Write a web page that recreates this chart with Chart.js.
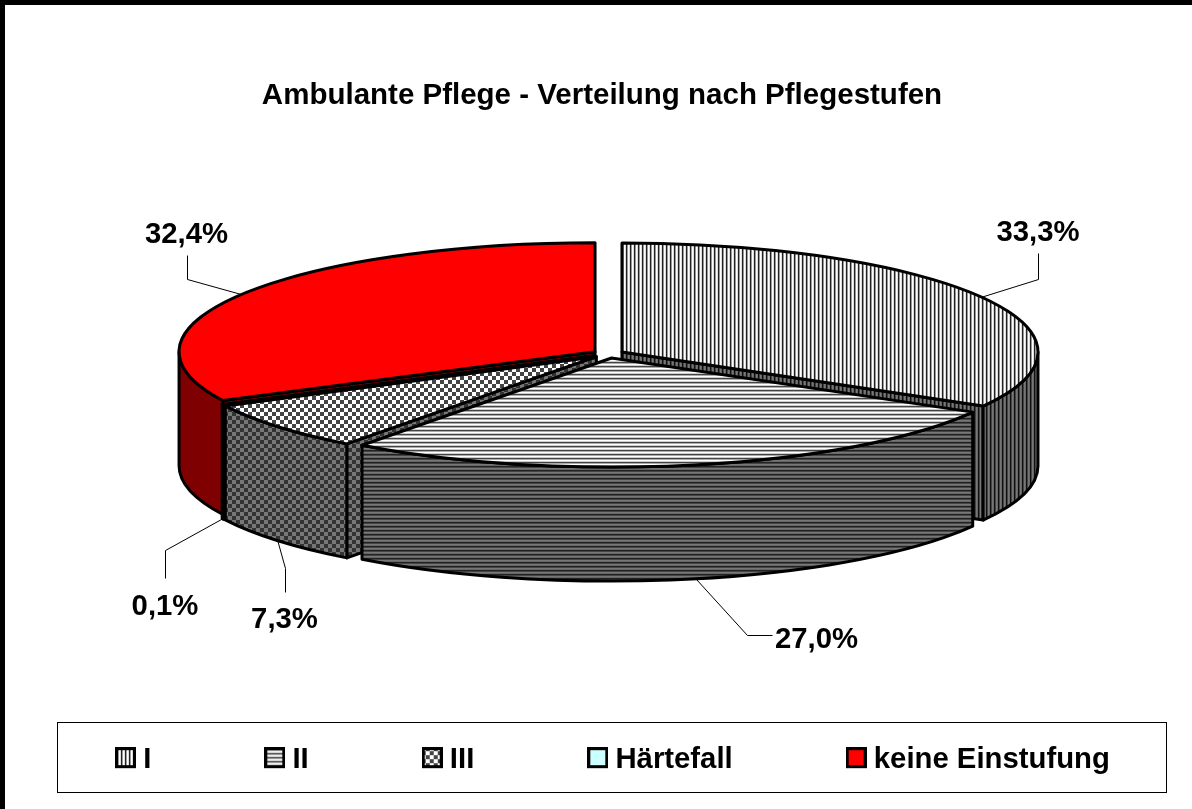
<!DOCTYPE html>
<html><head><meta charset="utf-8">
<style>html,body{margin:0;padding:0;background:#fff}canvas{display:block}</style>
<script src="https://cdn.jsdelivr.net/npm/chart.js@4/dist/chart.umd.min.js"></script>
</head><body><canvas id="c" width="1192" height="809"></canvas>
<script>
const titleText = 'Ambulante Pflege - Verteilung nach Pflegestufen';
const categories = ['I', 'II', 'III', 'Härtefall', 'keine Einstufung'];
const values = [33.3, 27.0, 7.3, 0.1, 32.4];
const labelCentres = [[1038, 233], [816.5, 640], [284.5, 620], [165, 607], [186.5, 235]];
const leaderBends = [[[1038, 279], [1038, 253]], [[747, 635], [772, 635]], [[285, 568], [285, 592]], [[165, 550], [165, 578]], [[187, 279], [187, 255]]];
const wallOrder = [4, 3, 0, 2, 1];

const CX = 608.4, CY = 354, RX = 416, RY = 109, DEPTH = 114, EXPLODE = 15.7;
const K = RY / RX;
const FONT = 'Liberation Sans';
const FS = 29.3;

function stripes(cols, vertical) {
  const c = document.createElement('canvas');
  c.width = vertical ? cols.length : 1; c.height = vertical ? 1 : cols.length;
  const x = c.getContext('2d');
  cols.forEach((col, i) => { x.fillStyle = col; vertical ? x.fillRect(i, 0, 1, 1) : x.fillRect(0, i, 1, 1); });
  return c;
}
function checker(a, b, s) {
  const c = document.createElement('canvas');
  c.width = c.height = 2 * s;
  const x = c.getContext('2d');
  x.fillStyle = a; x.fillRect(0, 0, 2 * s, 2 * s);
  x.fillStyle = b; x.fillRect(s, 0, s, s); x.fillRect(0, s, s, s);
  return c;
}
function solid(col) { const c = document.createElement('canvas'); c.width = c.height = 1; const x = c.getContext('2d'); x.fillStyle = col; x.fillRect(0, 0, 1, 1); return c; }

const ctx0 = document.getElementById('c').getContext('2d');
const topTiles = [
  stripes(['#fff', '#ddd', '#222', '#999'], true),
  stripes(['#fff', '#ccc', '#444', '#aaa'], false),
  checker('#fff', '#444', 4),
  solid('#CCFFFF'),
  solid('#FF0000')
];
const wallTiles = [
  stripes(['#777', '#666', '#111', '#444'], true),
  stripes(['#777', '#666', '#222', '#444'], false),
  checker('#777', '#333', 4),
  solid('#667F7F'),
  solid('#7F0000')
];
const unsquash = new DOMMatrix().scale(1, 1 / K).translate(0, -CY * (1 - K));
const topFills = topTiles.map(t => { const p = ctx0.createPattern(t, 'repeat'); p.setTransform(unsquash); return p; });
const wallFills = wallTiles.map(t => ctx0.createPattern(t, 'repeat'));

function swatch(i) {
  const c = document.createElement('canvas'); c.width = 21; c.height = 25;
  const x = c.getContext('2d');
  x.fillStyle = x.createPattern(topTiles[i], 'repeat'); x.fillRect(0, 0, 21, 21);
  x.strokeStyle = '#000'; x.lineWidth = 3; x.strokeRect(1.5, 1.5, 18, 18);
  return c;
}

function faceY(arc) { return CY + (arc.y - CY) * K; }
function rim(arc, t) { return [arc.x + RX * Math.cos(t), faceY(arc) + RY * Math.sin(t)]; }

const pie3d = {
  id: 'pie3d',
  afterDatasetsUpdate(chart) {
    chart.getDatasetMeta(0).data.forEach(arc => {
      const mid = (arc.startAngle + arc.endAngle) / 2;
      arc.x = CX + Math.cos(mid) * EXPLODE;
      arc.y = CY + Math.sin(mid) * EXPLODE;
    });
  },
  afterLayout(chart) {
    const t = chart.titleBlock; t.left += 6; t.right += 6;
    const l = chart.legend; const pad = l.options.labels.padding;
    l.left = 122.5 - pad; l.right = 3000; l.top = 745 - pad; l.bottom = 809;
  },
  beforeDraw(chart) {
    const c = chart.ctx;
    c.save();
    c.fillStyle = '#fff'; c.fillRect(0, 0, 1192, 809);
    c.fillStyle = '#000'; c.fillRect(0, 0, 1192, 5); c.fillRect(0, 0, 5, 809);
    c.lineWidth = 1; c.strokeStyle = '#000'; c.strokeRect(57.5, 722.5, 1109, 70);
    c.restore();
  },
  beforeDatasetsDraw(chart) {
    const c = chart.ctx, arcs = chart.getDatasetMeta(0).data;
    c.save();
    c.lineWidth = 3; c.strokeStyle = '#000'; c.lineJoin = 'round';
    const quad = (arc, t, i) => {
      const y0 = faceY(arc), p = rim(arc, t);
      c.beginPath(); c.moveTo(arc.x, y0); c.lineTo(arc.x, y0 + DEPTH); c.lineTo(p[0], p[1] + DEPTH); c.lineTo(p[0], p[1]); c.closePath();
      c.fillStyle = wallFills[i]; c.fill(); c.stroke();
    };
    wallOrder.forEach(i => {
      const arc = arcs[i], s = arc.startAngle, e = arc.endAngle;
      if (Math.cos(e) > 1e-6) quad(arc, e, i);
      if (Math.cos(s) < -1e-6) quad(arc, s, i);
      const a = Math.max(s, 0), b = Math.min(e, Math.PI);
      if (a < b) {
        const y0 = faceY(arc);
        c.beginPath(); c.ellipse(arc.x, y0, RX, RY, 0, a, b);
        c.ellipse(arc.x, y0 + DEPTH, RX, RY, 0, b, a, true); c.closePath();
        c.fillStyle = wallFills[i]; c.fill(); c.stroke();
      }
    });
    c.restore();
    c.save();
    c.translate(0, CY * (1 - K)); c.scale(1, K);
  },
  afterDatasetsDraw(chart) {
    const c = chart.ctx, arcs = chart.getDatasetMeta(0).data;
    c.restore();
    c.save();
    c.lineWidth = 3; c.strokeStyle = '#000'; c.lineJoin = 'round';
    wallOrder.forEach(i => {
      const arc = arcs[i], y0 = faceY(arc);
      c.beginPath(); c.moveTo(arc.x, y0);
      c.ellipse(arc.x, y0, RX, RY, 0, arc.startAngle, arc.endAngle); c.closePath(); c.stroke();
    });
    c.lineWidth = 1; c.lineJoin = 'miter';
    arcs.forEach((arc, i) => {
      const mid = (arc.startAngle + arc.endAngle) / 2, p = rim(arc, mid);
      const y = Math.sin(mid) > 0 ? p[1] + DEPTH : p[1];
      c.beginPath(); c.moveTo(p[0], y);
      leaderBends[i].forEach(q => c.lineTo(q[0] + .5, q[1] + .5));
      c.stroke();
    });
    c.fillStyle = '#000'; c.font = 'bold ' + FS + 'px "' + FONT + '"';
    c.textAlign = 'center'; c.textBaseline = 'middle';
    values.forEach((v, i) => c.fillText(v.toFixed(1).replace('.', ',') + '%', labelCentres[i][0], labelCentres[i][1]));
    c.restore();
  }
};

new Chart(document.getElementById('c'), {
  type: 'pie',
  plugins: [pie3d],
  data: {
    labels: categories,
    datasets: [{ data: values, backgroundColor: topFills, borderWidth: 0, clip: false }]
  },
  options: {
    responsive: false,
    animation: false,
    events: [],
    radius: RX,
    rotation: 0,
    plugins: {
      tooltip: { enabled: false },
      title: {
        display: true, text: titleText, color: '#000',
        font: { family: FONT, size: 29.5, weight: 'bold', lineHeight: 1.2 },
        padding: { top: 78.4, bottom: 0 }
      },
      legend: {
        display: true, position: 'bottom', align: 'start',
        labels: {
          color: '#000', padding: 120.5, usePointStyle: true, pointStyleWidth: 6, boxHeight: 21,
          font: { family: FONT, size: FS, weight: 'bold' },
          generateLabels: () => categories.map((t, i) => ({ text: t, pointStyle: swatch(i), fillStyle: '#000', strokeStyle: '#000', lineWidth: 0, index: i, hidden: false }))
        }
      }
    }
  }
});
</script></body></html>
